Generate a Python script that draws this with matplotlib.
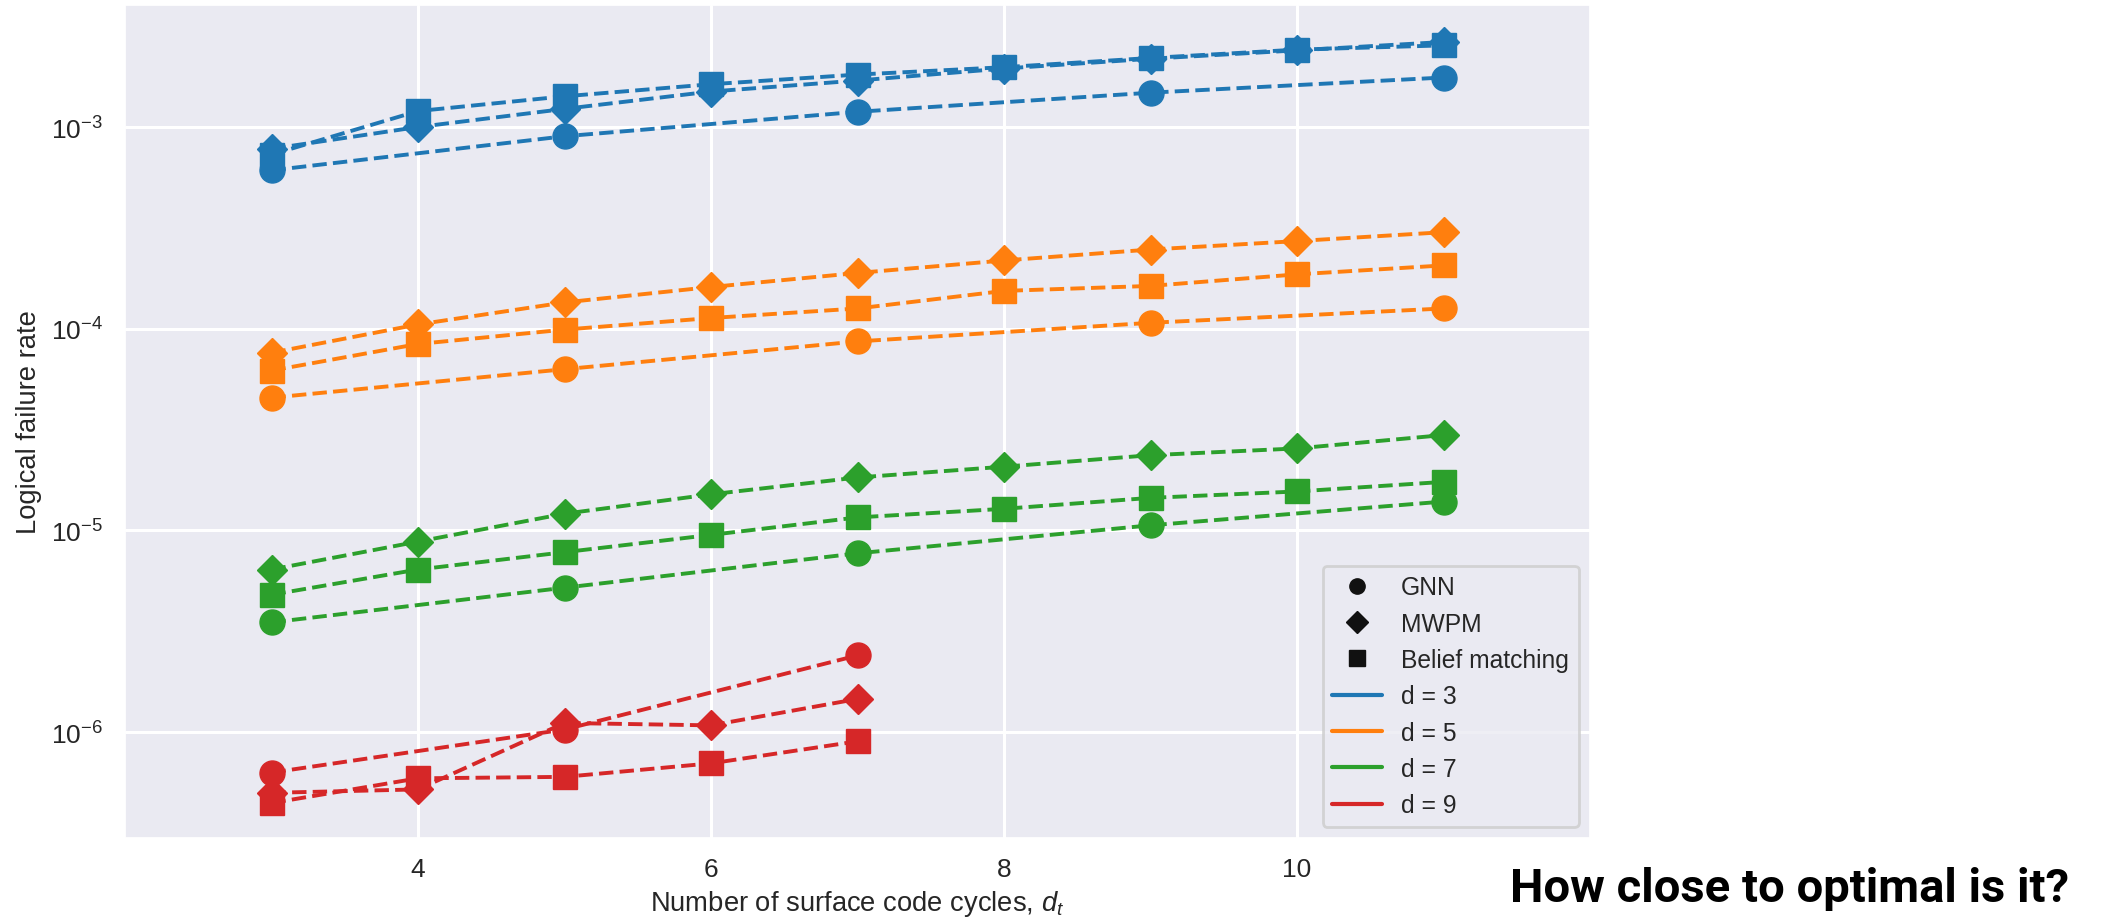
import matplotlib
matplotlib.use("Agg")
import matplotlib.pyplot as plt
from matplotlib.lines import Line2D
import seaborn as sns

sns.set_theme(style="darkgrid")
plt.rcParams["font.family"] = ["Liberation Sans", "DejaVu Sans"]
plt.rcParams["mathtext.fontset"] = "custom"
plt.rcParams["mathtext.rm"] = "Liberation Sans"
plt.rcParams["mathtext.it"] = "Liberation Sans:italic"
plt.rcParams["mathtext.bf"] = "Liberation Sans:bold"

# Logical failure rates per code distance and decoder
cycles_all = [3, 4, 5, 6, 7, 8, 9, 10, 11]
cycles_odd = [3, 5, 7, 9, 11]
cycles_d9 = [3, 4, 5, 6, 7]
cycles_d9_gnn = [3, 5, 7]

d3_gnn = [6.1e-4, 9.0e-4, 1.19e-3, 1.48e-3, 1.76e-3]
d3_mwpm = [7.8e-4, 1.0e-3, 1.23e-3, 1.50e-3, 1.70e-3, 1.95e-3, 2.18e-3, 2.40e-3, 2.64e-3]
d3_bm = [7.3e-4, 1.20e-3, 1.42e-3, 1.63e-3, 1.82e-3, 1.98e-3, 2.20e-3, 2.42e-3, 2.54e-3]

d5_gnn = [4.55e-5, 6.3e-5, 8.65e-5, 1.07e-4, 1.26e-4]
d5_mwpm = [7.6e-5, 1.05e-4, 1.35e-4, 1.61e-4, 1.89e-4, 2.18e-4, 2.47e-4, 2.72e-4, 3.01e-4]
d5_bm = [6.2e-5, 8.4e-5, 9.9e-5, 1.13e-4, 1.26e-4, 1.54e-4, 1.63e-4, 1.86e-4, 2.06e-4]

d7_gnn = [3.5e-6, 5.2e-6, 7.7e-6, 1.06e-5, 1.39e-5]
d7_mwpm = [6.4e-6, 8.8e-6, 1.21e-5, 1.51e-5, 1.83e-5, 2.07e-5, 2.36e-5, 2.55e-5, 2.97e-5]
d7_bm = [4.8e-6, 6.4e-6, 7.8e-6, 9.5e-6, 1.16e-5, 1.28e-5, 1.45e-5, 1.56e-5, 1.74e-5]

d9_gnn = [6.3e-7, 1.03e-6, 2.4e-6]
d9_mwpm = [5.0e-7, 5.2e-7, 1.11e-6, 1.08e-6, 1.46e-6]
d9_bm = [4.45e-7, 5.9e-7, 6.0e-7, 7.0e-7, 9.0e-7]

distances = [3, 5, 7, 9]
colors = ["#1f77b4", "#ff7f0e", "#2ca02c", "#d62728"]
decoder_names = ["GNN", "MWPM", "Belief matching"]
decoder_markers = ["o", "D", "s"]
marker_sizes = {"o": 18, "D": 15.5, "s": 17}

series = {
    3: [(cycles_odd, d3_gnn), (cycles_all, d3_mwpm), (cycles_all, d3_bm)],
    5: [(cycles_odd, d5_gnn), (cycles_all, d5_mwpm), (cycles_all, d5_bm)],
    7: [(cycles_odd, d7_gnn), (cycles_all, d7_mwpm), (cycles_all, d7_bm)],
    9: [(cycles_d9_gnn, d9_gnn), (cycles_d9, d9_mwpm), (cycles_d9, d9_bm)],
}

fig = plt.figure(figsize=(21.05, 9.2), dpi=100)
ax = fig.add_axes([125 / 2105, 1 - 839 / 920, (1590 - 125) / 2105, (839 - 6) / 920])

for d, color in zip(distances, colors):
    for (xs, ys), marker in zip(series[d], decoder_markers):
        ax.plot(xs, ys, linestyle="--", linewidth=2.8, color=color,
                marker=marker, markersize=marker_sizes[marker])

ax.set_yscale("log")
ax.set_xlim(2, 12)
ax.set_ylim(10 ** -6.525, 10 ** -2.395)
ax.set_xticks([4, 6, 8, 10])
ax.set_yticks([1e-6, 1e-5, 1e-4, 1e-3])
ax.minorticks_off()
ax.grid(True, which="major", color="white", linewidth=2.2)
ax.tick_params(axis="both", labelsize=19, colors="#262626", length=0)
ax.tick_params(axis="y", pad=16)
ax.tick_params(axis="x", pad=14)

ax.set_xlabel("Number of surface code cycles, $d_t$", fontsize=19.7, color="#262626", labelpad=5)
ax.set_ylabel("Logical failure rate", fontsize=19.7, color="#262626", labelpad=6)

handles = [Line2D([], [], color="#111111", marker=m, linestyle="", markersize=11)
           for m in decoder_markers]
handles += [Line2D([], [], color=c, linewidth=3) for c in colors]
labels = decoder_names + [f"d = {d}" for d in distances]
leg = ax.legend(handles, labels, loc="lower right", fontsize=17.7, frameon=True,
                borderaxespad=0.45, labelspacing=0.5)
leg.get_frame().set_edgecolor("#cccccc")
leg.get_frame().set_linewidth(2)

fig.text(1510 / 2105, 1 - 902 / 920, "How close to optimal is it?", fontsize=34,
         fontweight="bold", family=["Roboto", "DejaVu Sans"], color="black",
         ha="left", va="baseline")

fig.savefig("out.png", dpi=100)
